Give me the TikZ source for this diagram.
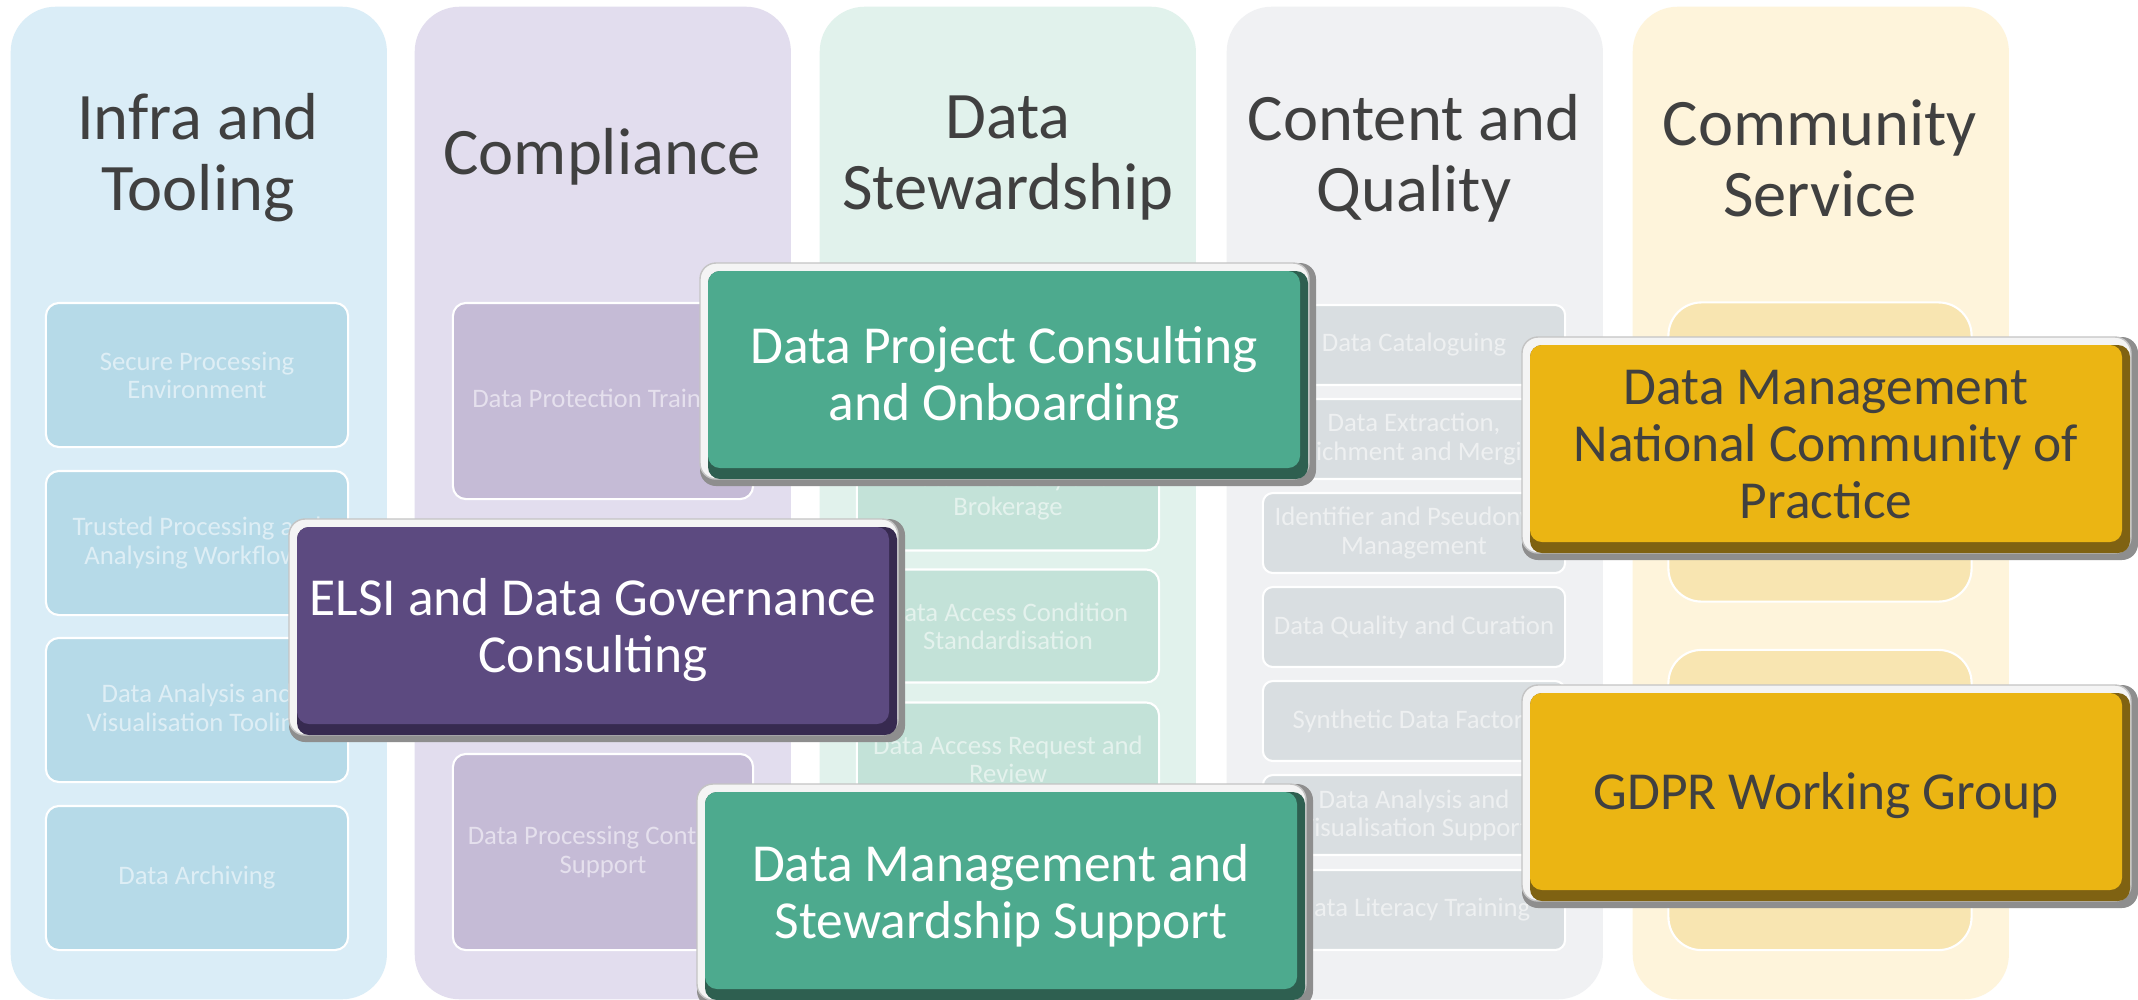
\documentclass[tikz,border=0pt]{standalone}
\usepackage{fontspec}
\setmainfont{Carlito}

\definecolor{headgray}{HTML}{404040}
\definecolor{infrabg}{HTML}{DAEDF7}
\definecolor{infraitem}{HTML}{B6DAE8}
\definecolor{compbg}{HTML}{E2DDEE}
\definecolor{compitem}{HTML}{C5BBD6}
\definecolor{stewbg}{HTML}{E1F2EC}
\definecolor{stewitem}{HTML}{C3E2D8}
\definecolor{contbg}{HTML}{F0F1F3}
\definecolor{contitem}{HTML}{D9DEE1}
\definecolor{commbg}{HTML}{FEF4DB}
\definecolor{commitem}{HTML}{F8E5B1}
\definecolor{consgreen}{HTML}{4DAA8E}
\definecolor{consrim}{HTML}{2E5F50}
\definecolor{govpurple}{HTML}{5C4A80}
\definecolor{govrim}{HTML}{372A50}
\definecolor{comyellow}{HTML}{EBB513}
\definecolor{comrim}{HTML}{7F6212}
\definecolor{bevelgray}{HTML}{8E8E8E}
\definecolor{bevellight}{HTML}{F4F4F4}
\definecolor{beveledge}{HTML}{C4C4C4}

\tikzset{
  column/.style = {rounded corners=0.45cm, anchor=north west, inner sep=0pt,
                   minimum width=3.76cm, minimum height=9.92cm},
  header/.style = {align=center, text=headgray, font=\fontsize{18.9}{20.2}\selectfont},
  item/.style   = {draw=white, line width=0.6pt, rounded corners=0.13cm, align=center,
                   inner sep=0pt, minimum width=3.02cm, font=\fontsize{7.6}{8}\selectfont},
  bigtext/.style = {align=center, inner sep=0pt, font=\fontsize{15.2}{16.2}\selectfont},
  bigfill/.style = {rounded corners=0.12cm},
  outerbevel/.style = {rounded corners=0.16cm, fill=bevelgray},
  innerbevel/.style = {rounded corners=0.16cm, fill=bevellight, draw=beveledge, line width=0.4pt}
}

\begin{document}
\begin{tikzpicture}[x=0.01cm, y=-0.01cm]
\useasboundingbox (0,0) rectangle (2138,999);
\fill [white] (0,0) rectangle (2138,999);
%%
%% kolonner
\node [column, fill=infrabg] (infra) at (10,6) {};
\node [column, fill=compbg]  (comp)  at (414,6) {};
\node [column, fill=stewbg]  (stew)  at (819,6) {};
\node [column, fill=contbg]  (cont)  at (1226,6) {};
\node [column, fill=commbg]  (comm)  at (1632,6) {};
%% overskrifter
\node [header] (infrahead) at (198,158)  {Infra and\\Tooling};
\node [header] (comphead)  at (602,157)  {Compliance};
\node [header] (stewhead)  at (1008,158) {Data\\Stewardship};
\node [header] (conthead)  at (1414,158) {Content and\\Quality};
\node [header] (commhead)  at (1820,158) {Community\\Service};
%%
%% infra and tooling
\node [item, fill=infraitem, text=white!55!infraitem, minimum height=1.44cm] (secure)    at (197,375) {Secure Processing\\Environment};
\node [item, fill=infraitem, text=white!55!infraitem, minimum height=1.44cm] (trusted)   at (197,543) {Trusted Processing and\\Analysing Workflows};
\node [item, fill=infraitem, text=white!55!infraitem, minimum height=1.44cm] (tooling)   at (197,710) {Data Analysis and\\Visualisation Tooling};
\node [item, fill=infraitem, text=white!55!infraitem, minimum height=1.44cm] (archiving) at (197,878) {Data Archiving};
%% compliance
\node [item, fill=compitem, text=white!55!compitem, minimum width=3.00cm, minimum height=1.96cm] (protection) at (603,401) {Data Protection Training};
\node [item, fill=compitem, text=white!55!compitem, minimum width=3.00cm, minimum height=1.96cm] (contract)   at (603,852) {Data Processing Contract\\Support};
%% data stewardship
\node [item, fill=stewitem, text=white!55!stewitem, minimum height=1.13cm] (discovery) at (1008,494) {Data Discovery and\\Brokerage};
\node [item, fill=stewitem, text=white!55!stewitem, minimum height=1.13cm] (condition) at (1008,626) {Data Access Condition\\Standardisation};
\node [item, fill=stewitem, text=white!55!stewitem, minimum height=1.13cm] (request)   at (1008,759) {Data Access Request and\\Review};
%% content and quality
\node [item, fill=contitem, text=white!55!contitem, rounded corners=0.1cm, minimum height=0.80cm] (catalogue)  at (1414,345) {Data Cataloguing};
\node [item, fill=contitem, text=white!55!contitem, rounded corners=0.1cm, minimum height=0.80cm] (extraction) at (1414,439) {Data Extraction,\\Enrichment and Merging};
\node [item, fill=contitem, text=white!55!contitem, rounded corners=0.1cm, minimum height=0.80cm] (pseudonym)  at (1414,533) {Identifier and Pseudonym\\Management};
\node [item, fill=contitem, text=white!55!contitem, rounded corners=0.1cm, minimum height=0.80cm] (quality)    at (1414,627) {Data Quality and Curation};
\node [item, fill=contitem, text=white!55!contitem, rounded corners=0.1cm, minimum height=0.80cm] (synthetic)  at (1414,721) {Synthetic Data Factory};
\node [item, fill=contitem, text=white!55!contitem, rounded corners=0.1cm, minimum height=0.80cm] (analysis)   at (1414,815) {Data Analysis and\\Visualisation Support};
\node [item, fill=contitem, text=white!55!contitem, rounded corners=0.1cm, minimum height=0.80cm] (literacy)   at (1414,910) {Data Literacy Training};
%% community service
\node [item, fill=commitem, rounded corners=0.33cm, minimum width=3.03cm, minimum height=2.99cm] (commtop)    at (1820,452) {};
\node [item, fill=commitem, rounded corners=0.33cm, minimum width=3.03cm, minimum height=3.00cm] (commbottom) at (1820,800) {};
%%
%% data project consulting
\begin{scope}[shift={(708,271)}]
\fill [outerbevel] (-8,-8) rectangle (608,215);
\fill [innerbevel] (-8,-8) rectangle (601,208);
\fill [bigfill, consrim] (0,0) rectangle (600,208);
\fill [bigfill, consgreen] (0,0) rectangle (592,197);
\node [bigtext, text=white] (consulting) at (296,107) {Data Project Consulting\\and Onboarding};
\end{scope}
%% elsi
\begin{scope}[shift={(297,527)}]
\fill [outerbevel] (-8,-8) rectangle (608,215);
\fill [innerbevel] (-8,-8) rectangle (601,208);
\fill [bigfill, govrim] (0,0) rectangle (600,208);
\fill [bigfill, govpurple] (0,0) rectangle (592,197);
\node [bigtext, text=white] (elsi) at (296,103) {ELSI and Data Governance\\Consulting};
\end{scope}
%% data management support
\begin{scope}[shift={(705,792)}]
\fill [outerbevel] (-8,-8) rectangle (608,215);
\fill [innerbevel] (-8,-8) rectangle (601,208);
\fill [bigfill, consrim] (0,0) rectangle (600,208);
\fill [bigfill, consgreen] (0,0) rectangle (592,197);
\node [bigtext, text=white] (dmsupport) at (296,104) {Data Management and\\Stewardship Support};
\end{scope}
%% community of practice
\begin{scope}[shift={(1530,345)}]
\fill [outerbevel] (-8,-8) rectangle (608,215);
\fill [innerbevel] (-8,-8) rectangle (601,208);
\fill [bigfill, comrim] (0,0) rectangle (600,208);
\fill [bigfill, comyellow] (0,0) rectangle (592,197);
\node [bigtext, text=headgray] (practice) at (296,100) {Data Management\\National Community of\\Practice};
\end{scope}
%% gdpr
\begin{scope}[shift={(1530,693)}]
\fill [outerbevel] (-8,-8) rectangle (608,215);
\fill [innerbevel] (-8,-8) rectangle (601,208);
\fill [bigfill, comrim] (0,0) rectangle (600,208);
\fill [bigfill, comyellow] (0,0) rectangle (592,197);
\node [bigtext, text=headgray] (gdpr) at (296,103) {GDPR Working Group};
\end{scope}
%%
\end{tikzpicture}
\end{document}
